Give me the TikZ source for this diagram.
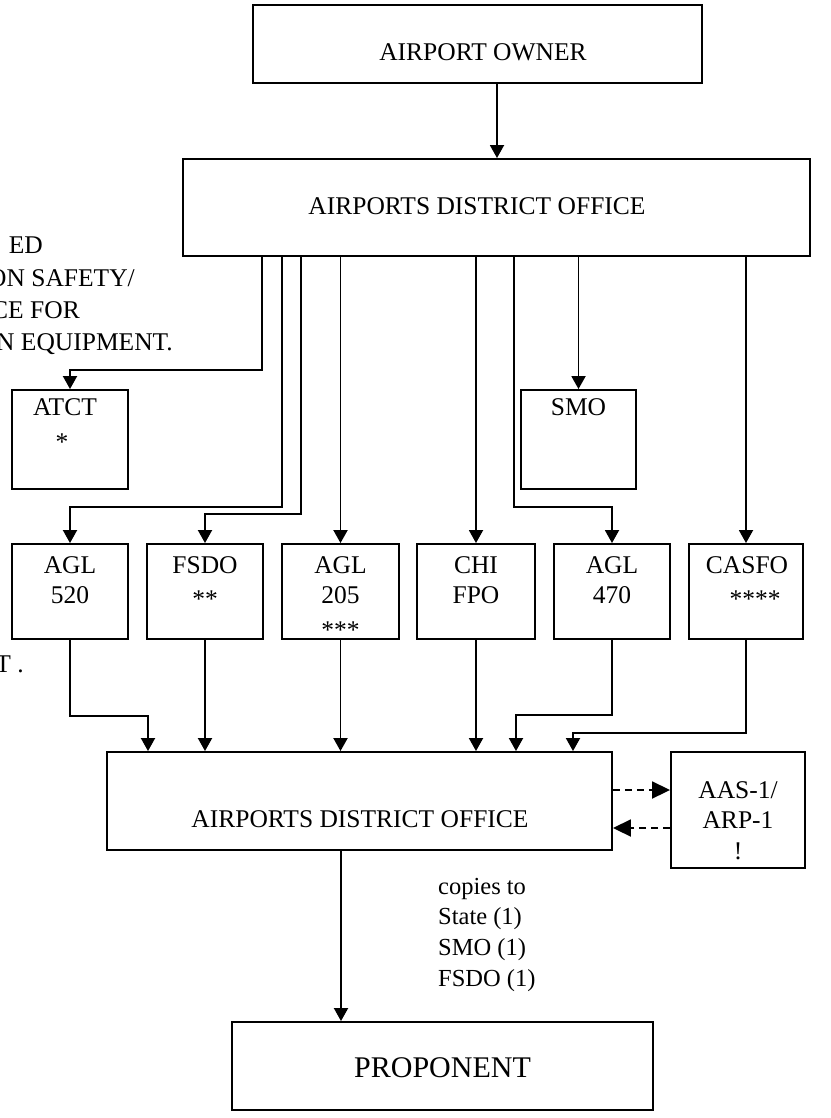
\documentclass[tikz,border=0pt]{standalone}
\usepackage{fontspec}
\setmainfont{Liberation Serif}
\usetikzlibrary{arrows.meta}
\begin{document}
\begin{tikzpicture}[x=1pt,y=-1pt,
  box/.style={draw, line width=1.9pt, inner sep=0pt},
  txt/.style={inner sep=0pt, anchor=base, font=\fontsize{25.5}{30}\selectfont},
  ltxt/.style={inner sep=0pt, anchor=base east, font=\fontsize{25.5}{30}\selectfont},
  ctxt/.style={inner sep=0pt, anchor=base west, font=\fontsize{24.5}{30}\selectfont},
  wire/.style={line width=1.9pt},
  arr/.style={wire, -{Triangle[length=13pt,width=14pt]}},
  dasharr/.style={wire, dash pattern=on 7pt off 5pt, -{Triangle[length=18pt,width=17pt]}}
]
\useasboundingbox (0,0) rectangle (830,1118);
\clip (0,0) rectangle (830,1118);

% boxes
\node[box, minimum width=449pt, minimum height=78pt] (owner) at (477.5,44) {};
\node[box, minimum width=627pt, minimum height=97pt] (ado1) at (496.5,207.5) {};
\node[box, minimum width=116pt, minimum height=99pt] (atct) at (70,439.5) {};
\node[box, minimum width=115pt, minimum height=99pt] (smo) at (578.5,439.5) {};
\node[box, minimum width=116pt, minimum height=95pt] (agl520) at (70,591.5) {};
\node[box, minimum width=116pt, minimum height=95pt] (fsdo) at (205,591.5) {};
\node[box, minimum width=117pt, minimum height=95pt] (agl205) at (340.5,591.5) {};
\node[box, minimum width=118pt, minimum height=95pt] (chi) at (476,591.5) {};
\node[box, minimum width=116pt, minimum height=95pt] (agl470) at (612,591.5) {};
\node[box, minimum width=114pt, minimum height=95pt] (casfo) at (746,591.5) {};
\node[box, minimum width=505pt, minimum height=98pt] (ado2) at (359.5,801) {};
\node[box, minimum width=134pt, minimum height=116pt] (aas) at (738,810) {};
\node[box, minimum width=421pt, minimum height=88pt] (prop) at (442.5,1066) {};

% texts
\node[txt] (t-owner) at (483,61) {AIRPORT OWNER};
\node[txt] (t-ado1) at (477,214) {AIRPORTS DISTRICT OFFICE};
\node[ltxt] (l1) at (43,253) {ED};
\node[ltxt] (l2) at (135,286) {ON SAFETY/};
\node[ltxt] (l3) at (80,318) {CE FOR};
\node[ltxt] (l4) at (173,350) {N EQUIPMENT.};
\node[ltxt] (l5) at (24,672) {T .};
\node[txt] (t-atct) at (65,415) {ATCT};
\node[txt] (t-atct2) at (62,450) {*};
\node[txt] (t-smo) at (578.5,415) {SMO};
\node[txt] (t-520a) at (70,573) {AGL};
\node[txt] (t-520b) at (70,603) {520};
\node[txt] (t-fsdoa) at (205,573) {FSDO};
\node[txt] (t-fsdob) at (205,607) {**};
\node[txt] (t-205a) at (340.5,573) {AGL};
\node[txt] (t-205b) at (340.5,603) {205};
\node[txt] (t-205c) at (340.5,638) {***};
\node[txt] (t-chia) at (476,573) {CHI};
\node[txt] (t-chib) at (476,603) {FPO};
\node[txt] (t-470a) at (612,573) {AGL};
\node[txt] (t-470b) at (612,603) {470};
\node[txt] (t-casa) at (747,573) {CASFO};
\node[txt] (t-casb) at (755,607) {****};
\node[txt] (t-ado2) at (360,827) {AIRPORTS DISTRICT OFFICE};
\node[txt] (t-aas1) at (738,798) {AAS-1/};
\node[txt] (t-aas2) at (738,828) {ARP-1};
\node[txt] (t-aas3) at (738,859) {!};
\node[ctxt] (cp1) at (438,894) {copies to};
\node[ctxt] (cp2) at (438,924) {State (1)};
\node[ctxt] (cp3) at (438,955) {SMO (1)};
\node[ctxt] (cp4) at (438,986) {FSDO (1)};
\node[inner sep=0pt, anchor=base, font=\fontsize{30}{36}\selectfont] (t-prop) at (442.5,1077) {PROPONENT};

% helper coordinates
\coordinate (q1) at (497,0);
\coordinate (c1) at (262,370);
\coordinate (c2) at (282,507);
\coordinate (c3) at (301,514);
\coordinate (c6) at (514,507);
\coordinate (d1) at (148,716);
\coordinate (d5) at (516,715);
\coordinate (d6) at (573,733);
\coordinate (p1) at (341,0);
\coordinate (e1) at (0,790);
\coordinate (e2) at (0,828);

% connectors
\draw[arr] (owner.south -| q1) -- (ado1.north -| q1);
\draw[arr] (ado1.south -| c1) -- (c1) -| (atct.north);
\draw[arr] (ado1.south -| c2) -- (c2) -| (agl520.north);
\draw[arr] (ado1.south -| c3) -- (c3) -| (fsdo.north);
\draw[arr] (ado1.south -| agl205.north) -- (agl205.north);
\draw[arr] (ado1.south -| chi.north) -- (chi.north);
\draw[arr] (ado1.south -| c6) -- (c6) -| (agl470.north);
\draw[arr] (ado1.south -| smo.north) -- (smo.north);
\draw[arr] (ado1.south -| casfo.north) -- (casfo.north);

\draw[arr] (agl520.south) |- (d1) -- (d1 |- ado2.north);
\draw[arr] (fsdo.south) -- (fsdo.south |- ado2.north);
\draw[arr] (agl205.south) -- (agl205.south |- ado2.north);
\draw[arr] (chi.south) -- (chi.south |- ado2.north);
\draw[arr] (agl470.south) |- (d5) -- (d5 |- ado2.north);
\draw[arr] (casfo.south) |- (d6) -- (d6 |- ado2.north);

\draw[dasharr] (ado2.east |- e1) -- (aas.west |- e1);
\draw[dasharr] (aas.west |- e2) -- (ado2.east |- e2);
\draw[arr] (ado2.south -| p1) -- (prop.north -| p1);
\end{tikzpicture}
\end{document}
